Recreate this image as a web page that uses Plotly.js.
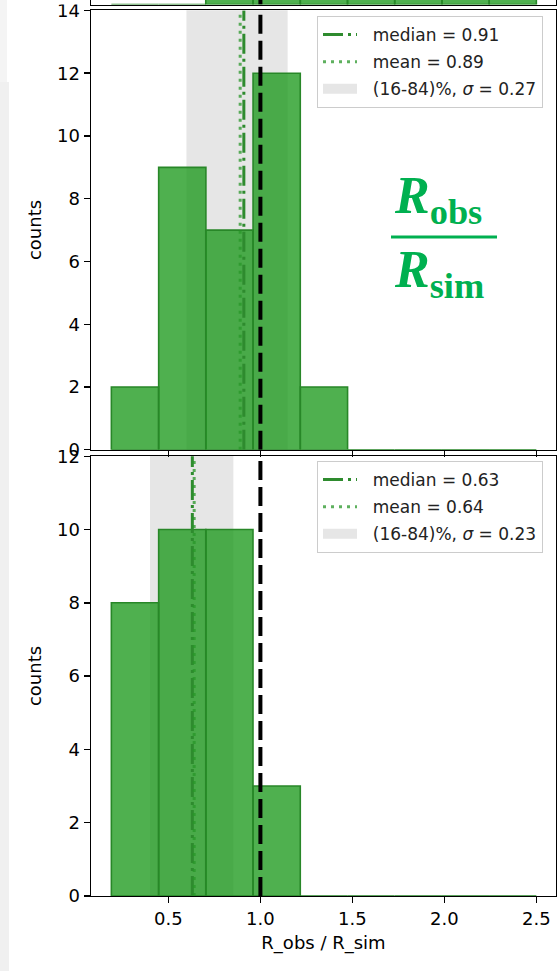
<!DOCTYPE html>
<html>
<head>
<meta charset="utf-8">
<script src="https://cdn.plot.ly/plotly-3.0.1.min.js"></script>
<style>html,body{margin:0;padding:0;background:#fff;}#chart{width:557px;height:971px;}</style>
</head>
<body>
<div id="chart"></div>
<script>
// ---- data ----
const binLeft = [0.19, 0.447, 0.703, 0.96, 1.217, 1.473, 1.73, 1.987, 2.243];
const binWidth = 0.2567;
const countsTop = [2, 9, 7, 12, 2, 0, 0, 0, 0];
const countsBottom = [8, 10, 10, 3, 0, 0, 0, 0, 0];
const countsPrev = [0, 0, 1, 1, 1, 1, 1, 1, 1];   // visible sliver of the panel above
const medianTop = 0.91, meanTop = 0.89, sigmaTop = 0.27;
const bandTop = [0.598, 1.148];
const medianBottom = 0.63, meanBottom = 0.64, sigmaBottom = 0.23;
const bandBottom = [0.40, 0.853];
const refRatio = 1.0;
const yMaxTop = 14, yMaxBottom = 12, yMaxPrev = 0.15;
const yTicksTop = [0, 2, 4, 6, 8, 10, 12, 14];
const yTicksBottom = [0, 2, 4, 6, 8, 10, 12];
const xTickVals = [0.5, 1.0, 1.5, 2.0, 2.5];
const xTickText = ['0.5', '1.0', '1.5', '2.0', '2.5'];
const xLabel = 'R_obs / R_sim';
const yLabel = 'counts';

// ---- styles ----
const FONT = 'DejaVu Sans, sans-serif';
const FS = 18;
const barFill = 'rgba(20,150,20,0.75)';
const barEdge = 'rgb(40,135,40)';
const medColor = '#2e8b2e';
const meanColor = 'rgba(40,150,40,0.75)';
const bandColor = '#e6e6e6';
const xRange = [0.0793, 2.6065];
const PAD = '\u00A0\u00A0';

function panel(xa, ya, counts, med, mean, sigma, ymax, legendName) {
  const tr = [];
  tr.push({
    type: 'bar', xaxis: xa, yaxis: ya,
    x: binLeft, y: counts, width: binWidth, offset: 0,
    marker: {color: barFill, line: {color: barEdge, width: 1.6}},
    showlegend: false
  });
  tr.push({
    type: 'scatter', mode: 'lines', xaxis: xa, yaxis: ya,
    x: [refRatio, refRatio], y: [0, ymax],
    line: {color: '#000', width: 4, dash: '19px,7px'},
    showlegend: false, hoverinfo: 'skip'
  });
  tr.push({
    type: 'scatter', mode: 'lines', xaxis: xa, yaxis: ya,
    x: [med, med], y: [0, ymax],
    line: {color: medColor, width: 3, dash: '20px,5px,3px,5px'},
    name: PAD + 'median = ' + med.toFixed(2),
    legend: legendName, legendgroup: legendName + 'a', legendrank: 1, hoverinfo: 'skip'
  });
  tr.push({
    type: 'scatter', mode: 'lines', xaxis: xa, yaxis: ya,
    x: [mean, mean], y: [0, ymax],
    line: {color: meanColor, width: 3, dash: '3px,5px'},
    name: PAD + 'mean = ' + mean.toFixed(2),
    legend: legendName, legendgroup: legendName + 'b', legendrank: 2, hoverinfo: 'skip'
  });
  // legend entry for the (16-84)% band (band itself drawn as a shape below the bars)
  tr.push({
    type: 'scatter', mode: 'lines', xaxis: xa, yaxis: ya,
    x: [null], y: [null], line: {color: bandColor, width: 10},
    name: PAD + '(16-84)%, <i>σ</i> = ' + sigma.toFixed(2),
    legend: legendName, legendgroup: legendName + 'c', legendrank: 3, hoverinfo: 'skip'
  });
  return tr;
}

const traces = [].concat(
  panel('x', 'y', countsBottom, medianBottom, meanBottom, sigmaBottom, yMaxBottom, 'legend2'),
  panel('x2', 'y2', countsTop, medianTop, meanTop, sigmaTop, yMaxTop, 'legend'),
  [{
    type: 'bar', xaxis: 'x3', yaxis: 'y3',
    x: binLeft, y: countsPrev, width: binWidth, offset: 0,
    marker: {color: barFill, line: {color: barEdge, width: 1.6}},
    showlegend: false
  }, {
    type: 'scatter', mode: 'lines', xaxis: 'x3', yaxis: 'y3',
    x: [refRatio, refRatio], y: [0, yMaxPrev],
    line: {color: '#000', width: 4}, showlegend: false
  }]
);

const H = 896; // plot-area height in px
const dom = (top, bot) => [(H - bot) / H, (H - top) / H];

const axBase = {
  showline: true, mirror: true, linecolor: '#000', linewidth: 1.4,
  ticks: 'outside', ticklen: 6, tickwidth: 1.4, tickcolor: '#000',
  showgrid: false, zeroline: false, tickfont: {family: FONT, size: FS, color: '#000'},
  ticklabeloverflow: 'allow', fixedrange: true
};

const legBase = {
  bgcolor: 'rgba(255,255,255,0.85)', bordercolor: '#cccccc', borderwidth: 1,
  font: {family: FONT, size: 17, color: '#222'}, xanchor: 'right', yanchor: 'top',
  traceorder: 'grouped', tracegroupgap: 2, itemwidth: 34
};

const layout = {
  width: 557, height: 971,
  margin: {l: 91, r: 1, t: 0, b: 75},
  paper_bgcolor: '#fff', plot_bgcolor: '#fff',
  font: {family: FONT, size: FS, color: '#000'},
  barmode: 'overlay',
  showlegend: true,
  xaxis: Object.assign({}, axBase, {
    range: xRange, anchor: 'y', tickvals: xTickVals, ticktext: xTickText,
    title: {text: xLabel, font: {family: FONT, size: FS}, standoff: 8}
  }),
  yaxis: Object.assign({}, axBase, {
    domain: dom(456, 896), range: [0, yMaxBottom * 1.0005], tickvals: yTicksBottom, anchor: 'x',
    title: {text: yLabel, font: {family: FONT, size: FS}, standoff: 10}
  }),
  xaxis2: Object.assign({}, axBase, {
    range: xRange, anchor: 'y2', tickvals: xTickVals, showticklabels: false
  }),
  yaxis2: Object.assign({}, axBase, {
    domain: dom(10.2, 449.8), range: [0, yMaxTop * 1.0005], tickvals: yTicksTop, anchor: 'x2',
    title: {text: yLabel, font: {family: FONT, size: FS}, standoff: 10}
  }),
  xaxis3: Object.assign({}, axBase, {
    range: xRange, anchor: 'y3', tickvals: xTickVals, showticklabels: false, mirror: false, ticks: ''
  }),
  yaxis3: Object.assign({}, axBase, {
    domain: dom(0, 4.5), range: [0, yMaxPrev], anchor: 'x3', showticklabels: false, ticks: ''
  }),
  legend: Object.assign({}, legBase, {x: (543 - 91) / 465, y: (H - 16) / H}),
  legend2: Object.assign({}, legBase, {x: (543 - 91) / 465, y: (H - 461) / H}),
  shapes: [
    {type: 'rect', xref: 'x2', yref: 'y2 domain', layer: 'below',
     x0: bandTop[0], x1: bandTop[1], y0: 0, y1: 1,
     fillcolor: bandColor, line: {width: 0}},
    {type: 'rect', xref: 'x', yref: 'y domain', layer: 'below',
     x0: bandBottom[0], x1: bandBottom[1], y0: 0, y1: 1,
     fillcolor: bandColor, line: {width: 0}},
    {type: 'rect', xref: 'paper', yref: 'paper', layer: 'below',
     x0: -91 / 465, x1: (-91 + 7) / 465, y0: (H - 82) / H, y1: 1,
     fillcolor: '#f4f4f4', line: {width: 0}},
    {type: 'rect', xref: 'paper', yref: 'paper', layer: 'below',
     x0: -91 / 465, x1: (-91 + 9) / 465, y0: (H - 971) / H, y1: (H - 82) / H,
     fillcolor: '#f0f0f0', line: {width: 0}},
    // panel seam: the panel above hides the top of the "14" label
    {type: 'rect', xref: 'paper', yref: 'paper', layer: 'above',
     x0: (10 - 91) / 465, x1: (89 - 91) / 465, y0: (H - 4.5) / H, y1: 1,
     fillcolor: '#ffffff', line: {width: 0}},
    {type: 'line', xref: 'paper', yref: 'paper',
     x0: (391 - 91) / 465, x1: (497 - 91) / 465, y0: (H - 237) / H, y1: (H - 237) / H,
     line: {color: '#00b050', width: 3}}
  ],
  annotations: [
    {xref: 'paper', yref: 'paper', x: (392 - 91) / 465, y: (H - 199) / H,
     xanchor: 'left', yanchor: 'middle', showarrow: false,
     text: '<b><i>R</i><sub>obs</sub></b>',
     font: {family: 'Liberation Serif, serif', size: 52, color: '#00b050'}},
    {xref: 'paper', yref: 'paper', x: (392 - 91) / 465, y: (H - 273) / H,
     xanchor: 'left', yanchor: 'middle', showarrow: false,
     text: '<b><i>R</i><sub>sim</sub></b>',
     font: {family: 'Liberation Serif, serif', size: 52, color: '#00b050'}}
  ]
};

Plotly.newPlot('chart', traces, layout, {displayModeBar: false, staticPlot: true});
</script>
</body>
</html>
